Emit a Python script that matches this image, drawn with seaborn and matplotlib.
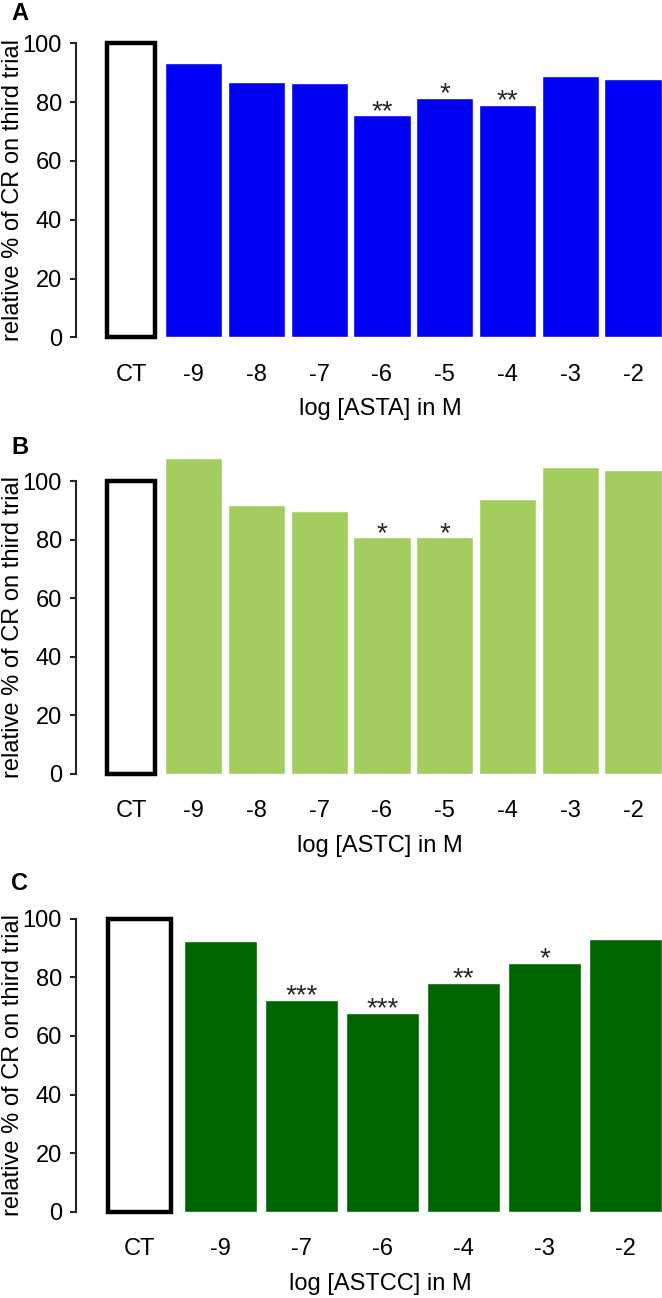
import seaborn as sns
import matplotlib.pyplot as plt
import pandas as pd

# data
labels_a = ["CT", "-9", "-8", "-7", "-6", "-5", "-4", "-3", "-2"]
values_a = [100, 93.2, 86.9, 86.4, 75.5, 81.5, 79.1, 88.8, 87.9]
stars_a = ["", "", "", "", "**", "*", "**", "", ""]

labels_b = ["CT", "-9", "-8", "-7", "-6", "-5", "-4", "-3", "-2"]
values_b = [100, 107.7, 91.7, 89.9, 80.8, 80.8, 93.8, 104.7, 103.8]
stars_b = ["", "", "", "", "*", "*", "", "", ""]

labels_c = ["CT", "-9", "-7", "-6", "-4", "-3", "-2"]
values_c = [100, 92.5, 72.3, 67.9, 78.2, 85.0, 93.0]
stars_c = ["", "", "***", "***", "**", "*", ""]

sns.set_style("white")
plt.rcParams['font.family'] = ['Liberation Sans', 'DejaVu Sans']

W, H = 662, 1298
fig = plt.figure(figsize=(W / 100, H / 100), dpi=100)

panels = [
    ("A", labels_a, values_a, stars_a, "#0000F5", "log [ASTA] in M", 337.3, 2.94, 62.75, 131, 13),
    ("B", labels_b, values_b, stars_b, "#A3CD5E", "log [ASTC] in M", 774.0, 2.93, 62.75, 131, 448),
    ("C", labels_c, values_c, stars_c, "#006400", "log [ASTCC] in M", 1211.7, 2.93, 81.0, 139.5, 884),
]

left = 76
for letter, labels, values, stars, color, xlabel, y0, ppu, pitch, ct_x, lab_y in panels:
    height = 110 * ppu
    ax = fig.add_axes([left / W, (H - y0) / H, (W - left) / W, height / H])
    df = pd.DataFrame({"dose": labels, "value": values})
    pal = ["white"] + [color] * (len(labels) - 1)
    sns.barplot(data=df, x="dose", y="value", hue="dose", palette=pal,
                legend=False, width=0.91, ax=ax, saturation=1)
    n = len(labels)
    lo = -(ct_x - left) / pitch
    hi = lo + (W - left) / pitch
    ax.set_xlim(lo, hi)
    ax.set_ylim(0, 110)
    # control bar: open box
    ct = ax.patches[0]
    w = 0.75 if n == 9 else 0.77
    ct.set_x(-w / 2)
    ct.set_width(w)
    ct.set_edgecolor("black")
    ct.set_linewidth(3.2)
    ct.set_clip_on(False)
    ct.set_joinstyle("miter")
    for i, (v, s) in enumerate(zip(values, stars)):
        if s:
            ax.text(i, v - 1.3, s, ha="center", va="baseline", fontsize=20)
    sns.despine(ax=ax, bottom=True)
    ax.spines["left"].set_bounds(0, 100)
    ax.spines["left"].set_linewidth(1.5)
    ax.set_yticks([0, 20, 40, 60, 80, 100])
    ax.tick_params(axis="y", length=4, width=1.5, pad=6, labelsize=17, left=True,
                   labelcolor="black")
    ax.tick_params(axis="x", length=0, pad=19, labelsize=17, labelcolor="black")
    ax.set_xlabel(xlabel, fontsize=17, color="black")
    ax.set_ylabel("relative % of CR on third trial", fontsize=17, color="black")
    ax.xaxis.set_label_coords((380 - left) / (W - left), -61 / height)
    ax.yaxis.set_label_coords(-52 / (W - left), 50 / 110)
    fig.text(11 / W, 1 - lab_y / H, letter, fontsize=17, fontweight="bold",
             ha="left", va="center", color="black")

fig.savefig("out.png", dpi=100)
